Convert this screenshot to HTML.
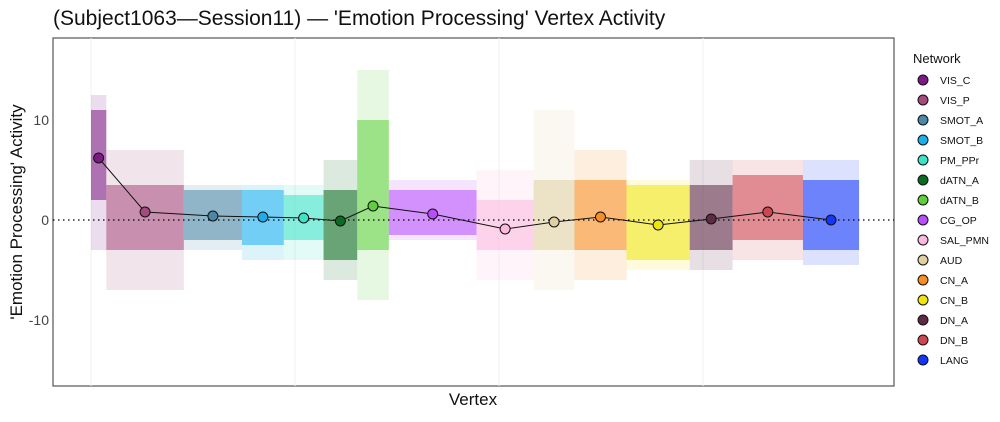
<!DOCTYPE html>
<html><head><meta charset="utf-8"><style>
body{margin:0;background:#fff;font-family:"Liberation Sans",sans-serif}
svg text{font-family:"Liberation Sans",sans-serif}
</style></head><body>
<svg id="chart" width="1000" height="417" viewBox="0 0 1000 417">
<text x="53" y="25" font-size="21" fill="#111">(Subject1063—Session11) — 'Emotion Processing' Vertex Activity</text>
<g id="plot"></g>
<text x="473" y="405" font-size="17" text-anchor="middle" fill="#111">Vertex</text>
<text transform="translate(22,212) rotate(-90)" font-size="17" text-anchor="middle" fill="#111">'Emotion Processing' Activity</text>
<g id="legend"></g>
</svg>
<script>
const networks=["VIS_C","VIS_P","SMOT_A","SMOT_B","PM_PPr","dATN_A","dATN_B","CG_OP","SAL_PMN","AUD","CN_A","CN_B","DN_A","DN_B","LANG"];
const colors=["#7b1a84","#a54a7c","#4b87a8","#1aaeed","#3ce3c8","#0b6b23","#5fcf3c","#b84dfb","#fbb8e0","#e0cfa3","#f68e22","#efe50e","#5e2a45","#cd4650","#1236fa"];
const segStart=[0,1500,9100,14800,18900,22800,26100,29200,37800,43400,47400,52500,58700,62900,69800];
const segEnd=[1500,9100,14800,18900,22800,26100,29200,37800,43400,47400,52500,58700,62900,69800,75300];
const means=[6.2,0.8,0.4,0.3,0.2,-0.1,1.4,0.6,-0.9,-0.2,0.3,-0.5,0.1,0.8,0.0];
const coreLo=[2,-3,-2,-2.5,-2,-4,-3,-1.5,-3,-3,-3,-4,-3,-2,-3];
const coreHi=[11,3.5,3,3,2.5,3,10,3,2,4,4,3.5,3.5,4.5,4];
const tailLo=[-3,-7,-3,-4,-4,-6,-8,-2,-6,-7,-6,-5,-5,-4,-4.5];
const tailHi=[12.5,7,3.5,3.5,3.5,6,15,4,5,11,7,4,6,6,6];
const yTicks=[-10,0,10];
const xGrid=[0,20000,40000,60000];

const L=53,R=894,T=38,B=386;
const xs=v=>91+(v)*(204/20000);
const ys=v=>220-v*10;
const NS="http://www.w3.org/2000/svg";
function mk(tag,attrs,parent){const e=document.createElementNS(NS,tag);for(const k in attrs)e.setAttribute(k,attrs[k]);parent.appendChild(e);return e;}
const plot=document.getElementById('plot');
const bg=mk('rect',{x:L,y:T,width:R-L,height:B-T,fill:'#fff',stroke:'#555','stroke-width':1.2},plot);


xGrid.forEach(g=>{const l=mk('line',{x1:xs(g),x2:xs(g),y1:T,y2:B,stroke:'#f0f0f0','stroke-width':1},plot);

});
yTicks.forEach(t=>{const tx=mk('text',{x:L-4,y:ys(t)+5,'font-size':14,'text-anchor':'end',fill:'#444'},plot);tx.textContent=t;

});
networks.forEach((n,i)=>{
 const x0=xs(segStart[i]),x1=xs(segEnd[i]);
 const g=mk('g',{},plot);
 
 
 mk('rect',{x:x0,y:ys(tailHi[i]),width:x1-x0,height:ys(tailLo[i])-ys(tailHi[i]),fill:colors[i],opacity:0.15},g);
 mk('rect',{x:x0,y:ys(coreHi[i]),width:x1-x0,height:ys(coreLo[i])-ys(coreHi[i]),fill:colors[i],opacity:0.55},g);
});
const zl=mk('line',{x1:L,x2:R,y1:ys(0),y2:ys(0),stroke:'#000','stroke-width':1.2,'stroke-dasharray':'1.5,3.5'},plot);


const pts=networks.map((n,i)=>[xs((segStart[i]+segEnd[i])/2),ys(means[i])]);
const pl=mk('polyline',{points:pts.map(p=>p.join(',')).join(' '),fill:'none',stroke:'#111','stroke-width':1},plot);


pts.forEach((p,i)=>{const c=mk('circle',{cx:p[0],cy:p[1],r:5,fill:colors[i],stroke:'#111','stroke-width':1},plot);

});
const leg=document.getElementById('legend');
const lt=mk('text',{x:913,y:63,'font-size':13,fill:'#111'},leg);lt.textContent='Network';


networks.forEach((n,i)=>{const y=80+i*20;
 const g=mk('g',{},leg);
 
 
 mk('circle',{cx:923,cy:y,r:5,fill:colors[i],stroke:'#111','stroke-width':1},g);
 const t=mk('text',{x:940,y:y+4,'font-size':10.5,fill:'#111'},g);t.textContent=n;});
</script>
</body></html>
